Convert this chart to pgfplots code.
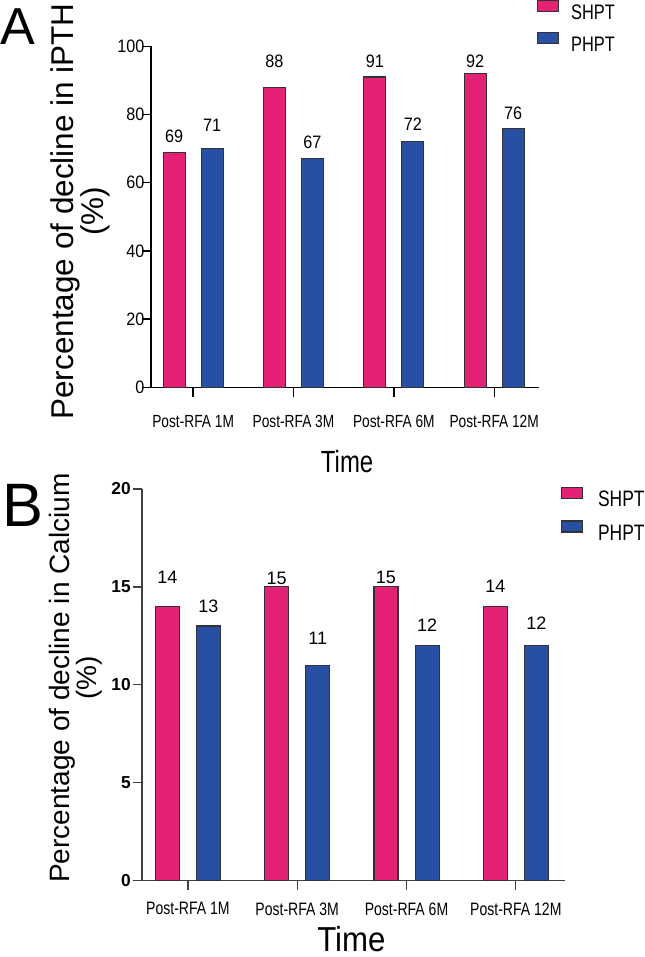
\documentclass[border=0pt]{standalone}
\usepackage{fontspec}
\setmainfont{Liberation Sans}
\newfontfamily\condA{Liberation Sans}[FakeStretch=0.78]
\newfontfamily\condC{Liberation Sans}[FakeStretch=0.9]
\usepackage{pgfplots}
\usepackage{pgfplotstable}
\pgfplotsset{compat=1.18}

\definecolor{shpt}{RGB}{229,32,117}
\definecolor{phpt}{RGB}{39,79,163}

% x = group, y = bar height, lab = printed value, off = label gap (pt)
\pgfplotstableread{
x y  lab off
0 69 69  6.5
1 88 88  14.25
2 91 91  6.75
3 92 92  3.75
}\ipthS
\pgfplotstableread{
x y  lab off
0 70 71  12.75
1 67 67  7.1
2 72 72  7.9
3 76 76  6
}\ipthP
\pgfplotstableread{
x y  lab off
0 14 14  17
1 15 15  1.5
2 15 15  2.25
3 14 14  10
}\caS
\pgfplotstableread{
x y  lab off
0 13 13  9.75
1 11 11  15
2 12 12  10.5
3 12 12  12
}\caP

\pgfplotsset{
  panel/.style={
    scale only axis, clip=false,
    axis lines=left, axis line style={-, line width=1pt},
    ymin=0, xmin=-0.42, xmax=3.45,
    xtick={0,1,2,3},
    xticklabels={Post-RFA 1M,Post-RFA 3M,Post-RFA 6M,Post-RFA 12M},
    tick align=outside, major tick length=7pt,
    tick style={line width=1pt},
    /pgf/number format/assume math mode=true,
    ybar,
    legend image code/.code={\draw[##1] (0pt,1.5pt) rectangle (15.75pt,9.75pt);},
    legend cell align=left,
  },
  lbl/.style={nodes near coords, point meta=explicit symbolic,
    visualization depends on={\thisrow{off}\as\off},
    every node near coord/.append style={anchor=south, inner sep=0pt,
      yshift=\off*1pt, text=black, font=#1}},
}

\begin{document}
\begin{tikzpicture}

% ---- panel A ----
\begin{axis}[panel, at={(113.25pt,427.25pt)}, anchor=south west,
    width=291.25pt, height=255.75pt,
    ymax=100, ytick={0,20,...,100},
    axis line style={black}, tick style={black},
    xticklabel style={font=\condA\fontsize{13.2}{13.2}\selectfont},
    xticklabel shift=10.5pt,
    yticklabel style={font=\condC\fontsize{13.5}{13.5}\selectfont, inner sep=0pt},
    yticklabel shift=-2.3pt,
    xlabel={Time},
    xlabel style={at={(axis description cs:0.505,-0.251)}, anchor=base,
      font=\condA\fontsize{23}{23}\selectfont},
    ylabel={Percentage of decline in iPTH\\(\%)},
    ylabel style={at={(axis description cs:-0.183,0.516)}, anchor=center,
      align=center, font=\fontsize{23.6}{22.5}\selectfont},
    legend style={at={(0.994,1.136)}, anchor=north west, draw=none, fill=none,
      inner sep=0pt, outer sep=0pt, row sep=7.6pt, column sep=9pt,
      nodes={inner sep=0pt}, font=\condA\fontsize{15.75}{15.75}\selectfont},
  ]
  \addplot[draw=black!80, line width=0.8pt, fill=shpt, bar width=16.5pt,
    bar shift=-14.25pt, lbl=\condC\fontsize{13.5}{13.5}\selectfont]
    table[x=x, y=y, meta=lab] {\ipthS};
  \addlegendentry{SHPT}
  \addplot[draw=black!80, line width=0.8pt, fill=phpt, bar width=16.5pt,
    bar shift=14.25pt, lbl=\condC\fontsize{13.5}{13.5}\selectfont]
    table[x=x, y=y, meta=lab] {\ipthP};
  \addlegendentry{PHPT}
\end{axis}

% ---- panel B ----
\begin{axis}[panel, at={(106.5pt,57.4pt)}, anchor=south west,
    width=317.25pt, height=293.6pt,
    ymax=20, ytick={0,5,...,20},
    axis line style={black!75}, tick style={black!75},
    xticklabel style={font=\condA\fontsize{13.5}{13.5}\selectfont},
    xticklabel shift=6pt,
    yticklabel style={font=\bfseries\fontsize{13}{13}\selectfont, inner sep=2.8pt},
    yticklabel shift=-1.5pt,
    xlabel={Time},
    xlabel style={at={(axis description cs:0.495,-0.181)}, anchor=base,
      font=\condC\fontsize{26}{26}\selectfont},
    ylabel={Percentage of decline in Calcium\\(\%)},
    ylabel style={at={(axis description cs:-0.156,0.517)}, anchor=center,
      align=center, font=\fontsize{21}{16.5}\selectfont},
    legend style={at={(0.9905,1.006)}, anchor=north west, draw=none, fill=none,
      inner sep=0pt, outer sep=0pt, row sep=8.6pt, column sep=11.25pt,
      nodes={inner sep=0pt}, font=\condA\fontsize{16.75}{16.75}\selectfont},
  ]
  \addplot[draw=black!80, line width=0.8pt, fill=shpt, bar width=18pt,
    bar shift=-15.4pt, lbl=\fontsize{13.5}{13.5}\selectfont]
    table[x=x, y=y, meta=lab] {\caS};
  \addlegendentry{SHPT}
  \addplot[draw=black!80, line width=0.8pt, fill=phpt, bar width=18pt,
    bar shift=15.4pt, lbl=\fontsize{13.5}{13.5}\selectfont]
    table[x=x, y=y, meta=lab] {\caP};
  \addlegendentry{PHPT}
\end{axis}

\node[anchor=base west, inner sep=0pt, font=\fontsize{39}{39}\selectfont]
  at (0pt,684pt) {A};
\node[anchor=base west, inner sep=0pt, font=\fontsize{46}{46}\selectfont]
  at (1.5pt,322.5pt) {B};

\pgfresetboundingbox
\useasboundingbox (0pt,0pt) rectangle (483.75pt,717.75pt);
\end{tikzpicture}
\end{document}
